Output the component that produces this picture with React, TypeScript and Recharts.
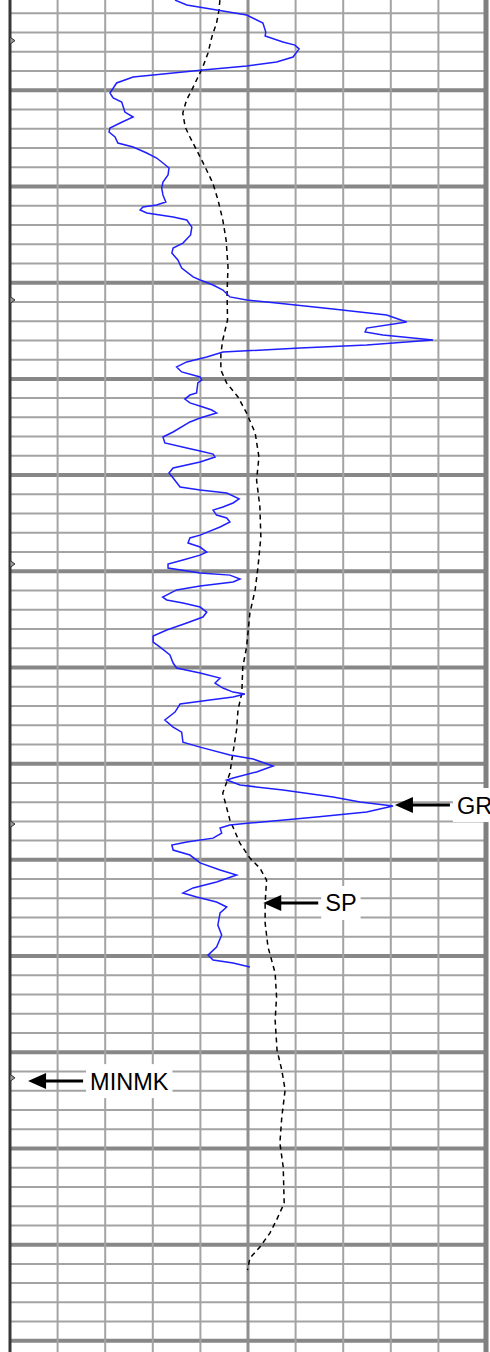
import React from 'react';
import { LineChart, Line, XAxis, YAxis, ReferenceLine, ReferenceDot } from 'recharts';

// Gamma ray samples: [depth (ft), GR (API)]
const grSamples: [number, number][] = [
  [953.1,52.0],[955.7,55.7],[960.9,74.6],[965.0,79.7],[969.7,80.6],[971.8,80.4],[974.9,86.0],[976.5,89.8],[978.5,91.1],[982.7,89.2],[985.3,84.0],[987.4,74.6],[989.4,60.8],[992.0,45.1],[993.1,38.8],[996.2,33.6],[1001.4,31.5],[1004.0,32.5],[1006.1,35.2],[1011.3,36.2],[1013.9,38.8],[1017.0,34.7],[1019.6,31.5],[1021.7,31.2],[1024.3,33.1],[1027.4,34.0],[1029.5,38.8],[1032.6,43.1],[1035.2,46.2],[1037.8,48.2],[1040.4,50.1],[1044.0,49.8],[1047.7,48.2],[1050.8,47.8],[1054.4,48.2],[1058.1,49.1],[1059.6,46.2],[1060.7,41.9],[1062.2,41.0],[1063.8,43.1],[1065.9,51.4],[1067.4,55.7],[1071.1,57.3],[1075.2,56.9],[1079.4,54.5],[1082.0,51.4],[1084.6,51.0],[1088.2,52.9],[1092.4,54.1],[1097.0,57.7],[1098.6,59.9],[1101.2,64.0],[1103.8,67.1],[1107.4,69.3],[1109.0,74.6],[1110.6,84.0],[1113.7,101.8],[1116.8,118.7],[1120.4,125.0],[1123.6,112.4],[1125.6,111.9],[1127.2,117.5],[1129.8,133.3],[1132.4,112.4],[1134.0,91.4],[1136.0,67.1],[1138.6,62.0],[1141.2,55.7],[1143.8,52.5],[1146.4,54.1],[1149.0,59.9],[1150.6,60.4],[1152.1,59.2],[1157.3,58.8],[1158.4,56.7],[1160.5,55.1],[1162.5,56.7],[1164.6,60.8],[1166.2,63.6],[1167.7,65.1],[1170.3,59.9],[1172.4,56.7],[1177.6,51.4],[1180.2,48.2],[1183.3,48.8],[1185.9,55.7],[1187.5,59.9],[1189.1,64.0],[1190.6,64.6],[1193.2,59.9],[1196.3,51.4],[1198.9,50.1],[1201.5,51.4],[1206.2,53.6],[1207.8,59.9],[1209.3,68.3],[1212.4,72.2],[1214.5,70.3],[1216.6,67.1],[1218.2,64.0],[1220.8,65.1],[1222.3,68.3],[1224.4,69.3],[1227.0,66.2],[1231.2,59.9],[1232.7,56.7],[1235.3,56.1],[1237.4,59.9],[1240.0,62.0],[1241.6,59.9],[1244.1,54.5],[1246.2,49.8],[1248.3,49.8],[1250.9,59.9],[1252.0,69.3],[1254.0,72.5],[1255.6,70.3],[1257.7,59.9],[1259.7,52.5],[1263.4,48.1],[1264.9,49.4],[1266.5,54.5],[1268.6,59.9],[1271.2,62.0],[1273.8,60.8],[1276.9,55.7],[1280.5,49.4],[1283.7,45.1],[1286.8,45.1],[1289.4,47.3],[1293.5,50.4],[1297.7,51.4],[1300.3,52.5],[1302.9,59.9],[1305.5,66.2],[1308.1,64.6],[1310.7,67.1],[1312.8,70.3],[1313.8,74.0],[1315.4,70.3],[1316.9,63.0],[1319.0,53.6],[1323.2,52.0],[1327.3,48.8],[1331.0,51.4],[1333.6,54.1],[1338.8,54.5],[1341.4,59.9],[1345.5,69.3],[1347.6,76.6],[1351.2,82.9],[1354.3,77.7],[1357.5,70.3],[1358.5,68.3],[1361.1,72.5],[1363.7,86.0],[1367.3,101.8],[1369.9,110.3],[1372.0,120.7],[1375.1,112.4],[1377.7,96.6],[1380.9,75.6],[1381.9,69.3],[1383.5,66.2],[1386.1,66.7],[1388.7,64.0],[1390.7,55.7],[1392.3,51.0],[1394.9,51.4],[1397.5,56.7],[1401.6,59.9],[1405.3,66.2],[1407.9,71.4],[1411.5,65.1],[1414.6,57.7],[1417.2,54.5],[1419.3,58.8],[1421.9,65.1],[1424.5,68.3],[1427.6,66.2],[1433.9,65.5],[1439.1,66.7],[1445.3,65.1],[1449.5,62.4],[1452.1,64.0],[1453.6,70.3],[1455.7,75.6],
];

// Spontaneous potential samples: [depth (ft), SP (mV)]
const spSamples: [number, number][] = [
  [953.1,-55.9],[958.3,-56.1],[965.0,-56.6],[972.3,-57.6],[980.6,-58.4],[987.9,-59.5],[993.1,-60.5],[999.8,-61.8],[1005.0,-62.9],[1011.8,-63.7],[1019.1,-63.2],[1024.3,-62.2],[1031.0,-60.8],[1039.9,-59.0],[1048.2,-57.4],[1057.0,-56.3],[1067.4,-55.3],[1077.8,-54.6],[1091.8,-54.2],[1105.4,-54.4],[1119.4,-54.3],[1129.8,-55.3],[1136.6,-55.7],[1145.4,-55.7],[1152.1,-54.5],[1159.4,-52.1],[1167.7,-50.3],[1178.1,-48.5],[1190.6,-47.7],[1202.6,-48.2],[1216.6,-47.5],[1232.2,-47.3],[1247.8,-47.9],[1259.7,-48.5],[1271.7,-49.6],[1289.4,-50.3],[1299.8,-51.1],[1313.3,-51.3],[1322.1,-52.1],[1332.5,-52.4],[1348.1,-53.4],[1354.9,-53.8],[1365.3,-55.3],[1379.3,-53.8],[1391.3,-51.7],[1399.1,-49.6],[1404.3,-47.5],[1410.5,-46.1],[1422.4,-46.4],[1432.8,-46.4],[1445.3,-45.8],[1458.8,-44.3],[1471.3,-44.0],[1483.3,-44.3],[1498.9,-43.9],[1509.3,-42.9],[1519.6,-42.2],[1533.7,-42.9],[1547.2,-43.3],[1559.7,-42.6],[1578.4,-42.4],[1587.2,-44.0],[1594.0,-45.4],[1601.2,-47.5],[1607.0,-49.6],[1613.2,-50.1],
];

const depthDomain: [number, number] = [953.07, 1655.8];
const grDomain: [number, number] = [0, 150];
const spDomain: [number, number] = [-100, 0];

const gridDepths = [
  960, 970, 980, 990, 1000, 1010, 1020, 1030, 1040, 1050, 1060, 1070, 1080, 1090, 1100,
  1110, 1120, 1130, 1140, 1150, 1160, 1170, 1180, 1190, 1200, 1210, 1220, 1230, 1240, 1250,
  1260, 1270, 1280, 1290, 1300, 1310, 1320, 1330, 1340, 1350, 1360, 1370, 1380, 1390, 1400,
  1410, 1420, 1430, 1440, 1450, 1460, 1470, 1480, 1490, 1500, 1510, 1520, 1530, 1540, 1550,
  1560, 1570, 1580, 1590, 1600, 1610, 1620, 1630, 1640, 1650,
];
const majorDepths = [1000, 1050, 1100, 1150, 1200, 1250, 1300, 1350, 1400, 1450, 1500, 1550, 1600, 1650];
const gridValues = [15, 30, 45, 60, 90, 105, 120, 135];
const centerValue = 75;
const leftValue = 0;
const rightValue = 150;

const markerDepths = [974.2, 1109.0, 1246.2, 1381.4, 1513.3];

const pointerLabels = ['GR', 'SP', 'MINMK'];
const pointerAxes = ['gr', 'sp', 'gr'];
const pointerValues = [121.3, -46.8, 5.7];
const pointerDepths = [1371.5, 1422.4, 1515.0];

const grData = grSamples.map(([depth, gr]) => ({ depth, gr }));
const spData = spSamples.map(([depth, sp]) => ({ depth, sp }));

const FONT = '"Liberation Sans", Arial, Helvetica, sans-serif';
const charW: Record<string, number> = { M: 0.833, I: 0.278, N: 0.722, K: 0.667, G: 0.778, R: 0.722, S: 0.667, P: 0.667 };

function makePointer(label: string) {
  return (props: any) => {
    const { cx, cy } = props;
    const fs = 23.5;
    const tw = label.split('').reduce((s, c) => s + (charW[c] ?? 0.7) * fs, 0);
    const tx = cx + 62;
    return (
      <g>
        <line x1={cx + 14} y1={cy} x2={cx + 55} y2={cy} stroke="#000" strokeWidth={3} />
        <polygon points={`${cx},${cy} ${cx + 18},${cy - 8} ${cx + 18},${cy + 8}`} fill="#000" />
        <rect x={tx - 4} y={cy - 17} width={tw + 8} height={34} fill="#fff" />
        <text x={tx} y={cy + 8.5} fontSize={fs} fontFamily={FONT} fill="#000">{label}</text>
      </g>
    );
  };
}

const chevron = (props: any) => {
  const { cx, cy } = props;
  return (
    <polygon
      points={`${cx},${cy - 3.5} ${cx + 5},${cy} ${cx},${cy + 3.5}`}
      fill="#9a9a9a"
      stroke="#333"
      strokeWidth={1}
    />
  );
};

export default function App() {
  return (
    <div style={{ position: 'absolute', left: 0, top: 0, width: 490, height: 1352, background: '#fff', overflow: 'hidden' }}>
      <LineChart width={490} height={1352} layout="vertical" margin={{ top: 0, right: 4, bottom: 0, left: 10 }}>
        <XAxis xAxisId="gr" type="number" domain={grDomain} hide allowDataOverflow />
        <XAxis xAxisId="sp" type="number" domain={spDomain} hide allowDataOverflow />
        <YAxis yAxisId="d" type="number" dataKey="depth" domain={depthDomain} hide allowDataOverflow />
        {gridDepths.map((d) => (
          <ReferenceLine key={'h' + d} xAxisId="gr" yAxisId="d" y={d} stroke="#a3a3a3" strokeWidth={2} />
        ))}
        {majorDepths.map((d) => (
          <ReferenceLine key={'H' + d} xAxisId="gr" yAxisId="d" y={d} stroke="#878787" strokeWidth={4} />
        ))}
        {gridValues.map((v) => (
          <ReferenceLine key={'v' + v} xAxisId="gr" yAxisId="d" x={v} stroke="#a3a3a3" strokeWidth={2} />
        ))}
        <ReferenceLine xAxisId="gr" yAxisId="d" x={centerValue} stroke="#8f8f8f" strokeWidth={3} />
        <ReferenceLine xAxisId="gr" yAxisId="d" x={rightValue} stroke="#808080" strokeWidth={5} />
        <ReferenceLine xAxisId="gr" yAxisId="d" x={leftValue} stroke="#383838" strokeWidth={3} />
        <Line
          xAxisId="sp"
          yAxisId="d"
          data={spData}
          dataKey="sp"
          type="linear"
          stroke="#000"
          strokeWidth={1.5}
          strokeDasharray="5 4"
          dot={false}
          activeDot={false}
          isAnimationActive={false}
        />
        <Line
          xAxisId="gr"
          yAxisId="d"
          data={grData}
          dataKey="gr"
          type="linear"
          stroke="#1f1fff"
          strokeWidth={1.5}
          dot={false}
          activeDot={false}
          isAnimationActive={false}
        />
        {markerDepths.map((d) => (
          <ReferenceDot key={'m' + d} xAxisId="gr" yAxisId="d" x={leftValue} y={d} r={3} shape={chevron} />
        ))}
        {pointerLabels.map((label, i) => (
          <ReferenceDot
            key={label}
            xAxisId={pointerAxes[i]}
            yAxisId="d"
            x={pointerValues[i]}
            y={pointerDepths[i]}
            r={3}
            shape={makePointer(label)}
          />
        ))}
      </LineChart>
    </div>
  );
}
